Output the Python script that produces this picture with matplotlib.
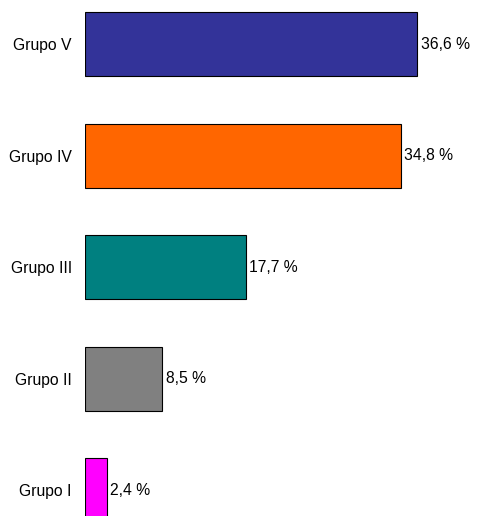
import matplotlib.pyplot as plt

grupos = ["Grupo I", "Grupo II", "Grupo III", "Grupo IV", "Grupo V"]
valores = [2.4, 8.5, 17.7, 34.8, 36.6]
etiquetas = ["2,4 %", "8,5 %", "17,7 %", "34,8 %", "36,6 %"]
colores = ["#ff00ff", "#808080", "#008080", "#ff6600", "#333399"]

plt.rcParams["font.family"] = ["Liberation Sans", "DejaVu Sans"]

fig = plt.figure(figsize=(4.78, 5.16), dpi=100)
ax = fig.add_axes([85 / 478, 0, 363 / 478, 1])

pos = range(len(grupos))
bars = ax.barh(pos, valores, height=0.574, color=colores,
               edgecolor="black", linewidth=0.8)

for b, t in zip(bars, etiquetas):
    ax.annotate(t, (b.get_width(), b.get_y() + b.get_height() / 2),
                xytext=(2.5, 0), textcoords="offset points",
                va="center", ha="left", fontsize=11.3)

ax.set_xlim(0, 40)
ax.set_ylim(-0.233, 4.395)
ax.set_yticks(list(pos))
ax.set_yticklabels(grupos, fontsize=11.3)
ax.tick_params(axis="y", length=0, pad=9.5)
ax.set_xticks([])
for s in ax.spines.values():
    s.set_visible(False)

fig.savefig("out.png", dpi=100)
